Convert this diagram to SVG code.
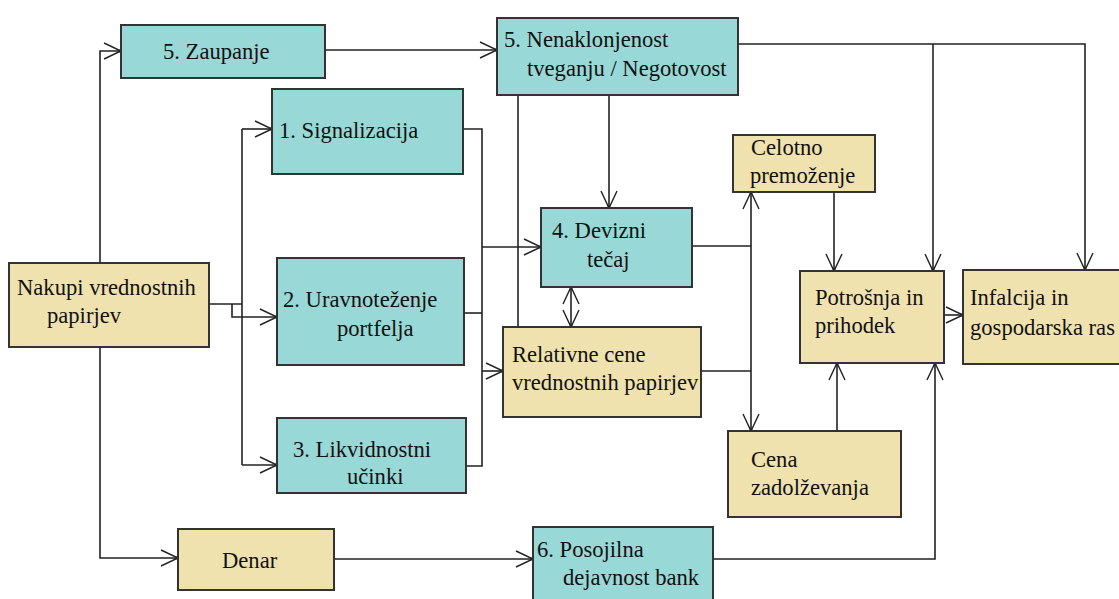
<svg xmlns="http://www.w3.org/2000/svg" width="1119" height="599" viewBox="0 0 1119 599">
<style>
.teal{fill:#98D8D6;stroke:#333;stroke-width:2}
.beige{fill:#EFE2AE;stroke:#333;stroke-width:2}
text{font-family:"Liberation Serif","Times New Roman",serif;font-size:22.6px;fill:#111}
.c path{fill:none;stroke:#222;stroke-width:1.6}
.a{marker-end:url(#ah)}
.b{marker-start:url(#ah);marker-end:url(#ah)}
</style>
<defs>
<marker id="ah" viewBox="-19 -10 21 20" refX="0" refY="0" markerWidth="21" markerHeight="20" markerUnits="userSpaceOnUse" orient="auto-start-reverse">
<path d="M-17,-8 L0,0 L-17,8" fill="none" stroke="#222" stroke-width="1.4"/>
<circle cx="-1" cy="0" r="1.4" fill="#222"/>
</marker>
</defs>
<rect width="1119" height="599" fill="#fff"/>
<g class="c" id="connectors">
<path class="a" d="M100,263 V51 H121"/>
<path class="a" d="M100,347 V558 H178"/>
<path d="M209,304 H242"/>
<path d="M242,129 V465"/>
<path class="a" d="M242,129 H272"/>
<path class="a" d="M242,465 H277"/>
<path class="a" d="M232,304 V317 H277"/>
<path class="a" d="M325,50 H497"/>
<path class="a" d="M738,44 H1085 V270"/>
<path class="a" d="M933,44 V271"/>
<path class="a" d="M609,95 V208"/>
<path d="M518,95 V327"/>
<path d="M463,129 H482 V466 H466"/>
<path d="M464,313 H482"/>
<path class="a" d="M482,247 H541"/>
<path class="a" d="M482,371 H503"/>
<path class="b" d="M571,287 V327"/>
<path d="M692,246 H751"/>
<path d="M701,371 H751"/>
<path class="b" d="M751,192 V431"/>
<path class="a" d="M834,192 V271"/>
<path class="a" d="M944,315 H963"/>
<path class="a" d="M837,431 V363"/>
<path class="a" d="M334,559 H533"/>
<path class="a" d="M713,559 H935 V363"/>
</g>
<g id="zaupanje"><rect class="teal" x="121" y="25" width="204" height="53"/><text x="163" y="59">5. Zaupanje</text></g>
<g id="nenaklonjenost"><rect class="teal" x="497" y="18" width="241" height="77"/><text x="504" y="47">5. Nenaklonjenost</text><text x="527" y="76">tveganju / Negotovost</text></g>
<g id="signalizacija"><rect class="teal" x="272" y="89" width="191" height="85"/><text x="279" y="138">1. Signalizacija</text></g>
<g id="nakupi"><rect class="beige" x="9" y="263" width="200" height="84"/><text x="17" y="295">Nakupi vrednostnih</text><text x="47" y="323">papirjev</text></g>
<g id="uravnotezenje"><rect class="teal" x="277" y="258" width="187" height="107"/><text x="283" y="307">2. Uravnoteženje</text><text x="337" y="336">portfelja</text></g>
<g id="likvidnostni"><rect class="teal" x="277" y="418" width="189" height="75"/><text x="293" y="457">3. Likvidnostni</text><text x="347" y="484">učinki</text></g>
<g id="devizni"><rect class="teal" x="541" y="208" width="151" height="79"/><text x="552" y="238">4. Devizni</text><text x="587" y="267">tečaj</text></g>
<g id="relativne"><rect class="beige" x="503" y="327" width="198" height="90"/><text x="512" y="362">Relativne cene</text><text x="512" y="390">vrednostnih papirjev</text></g>
<g id="celotno"><rect class="beige" x="733" y="135" width="142" height="57"/><text x="751" y="155">Celotno</text><text x="750" y="183">premoženje</text></g>
<g id="potrosnja"><rect class="beige" x="800" y="271" width="144" height="92"/><text x="815" y="305">Potrošnja in</text><text x="815" y="333">prihodek</text></g>
<g id="infalcija"><rect class="beige" x="963" y="270" width="170" height="94"/><text x="970" y="305">Infalcija in</text><text x="970" y="335">gospodarska ras</text></g>
<g id="cena"><rect class="beige" x="728" y="431" width="173" height="86"/><text x="751" y="467">Cena</text><text x="751" y="495">zadolževanja</text></g>
<g id="denar"><rect class="beige" x="178" y="529" width="156" height="61"/><text x="222" y="568">Denar</text></g>
<g id="posojilna"><rect class="teal" x="533" y="527" width="180" height="80"/><text x="537" y="557">6. Posojilna</text><text x="563" y="585">dejavnost bank</text></g>
</svg>
